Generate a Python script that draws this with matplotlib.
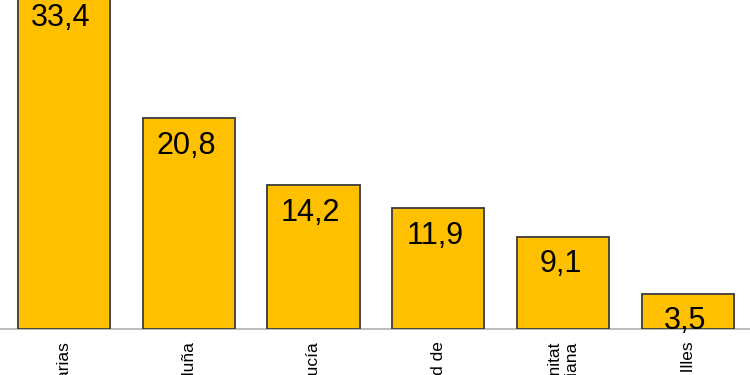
import matplotlib
matplotlib.use("Agg")
import matplotlib.pyplot as plt

# ===== DATA =====
regions = [
    "Canarias",
    "Cataluña",
    "Andalucía",
    "Madrid, Comunidad de",
    "Comunitat\nValenciana",
    "Balears, Illes",
]
values = [33.4, 20.8, 14.2, 11.9, 9.1, 3.5]
value_labels = ["33,4", "20,8", "14,2", "11,9", "9,1", "3,5"]

plt.rcParams["font.family"] = ["Liberation Sans", "DejaVu Sans"]

fig = plt.figure(figsize=(7.5, 3.75), dpi=100)
ax = fig.add_axes([0, 46 / 375, 1, 329 / 375])

x = list(range(len(regions)))
ax.bar(x, values, width=0.737, color="#FFC000", edgecolor="#3a3a3a",
       linewidth=1.3, zorder=3)

# value labels inside the bars, near the top
for xi, v, lab in zip(x, values, value_labels):
    ax.annotate(lab, (xi, v), xytext=(-2, -9), textcoords="offset points",
                ha="center", va="top", fontsize=22, color="black", zorder=4,
                annotation_clip=False)

# baseline
ax.axhline(0, color="#b0b0b0", linewidth=1.2, zorder=1, clip_on=False)

ax.set_xlim(-0.51, 5.495)
ax.set_ylim(0, 329 / 10.13)

ax.set_xticks(x)
ax.set_xticklabels(regions, rotation=90, fontsize=12.5)
for t in ax.get_xticklabels():
    t.set_multialignment("right")
ax.tick_params(axis="x", length=0, pad=9)
ax.set_yticks([])

for s in ax.spines.values():
    s.set_visible(False)

fig.savefig("out.png", dpi=100)
